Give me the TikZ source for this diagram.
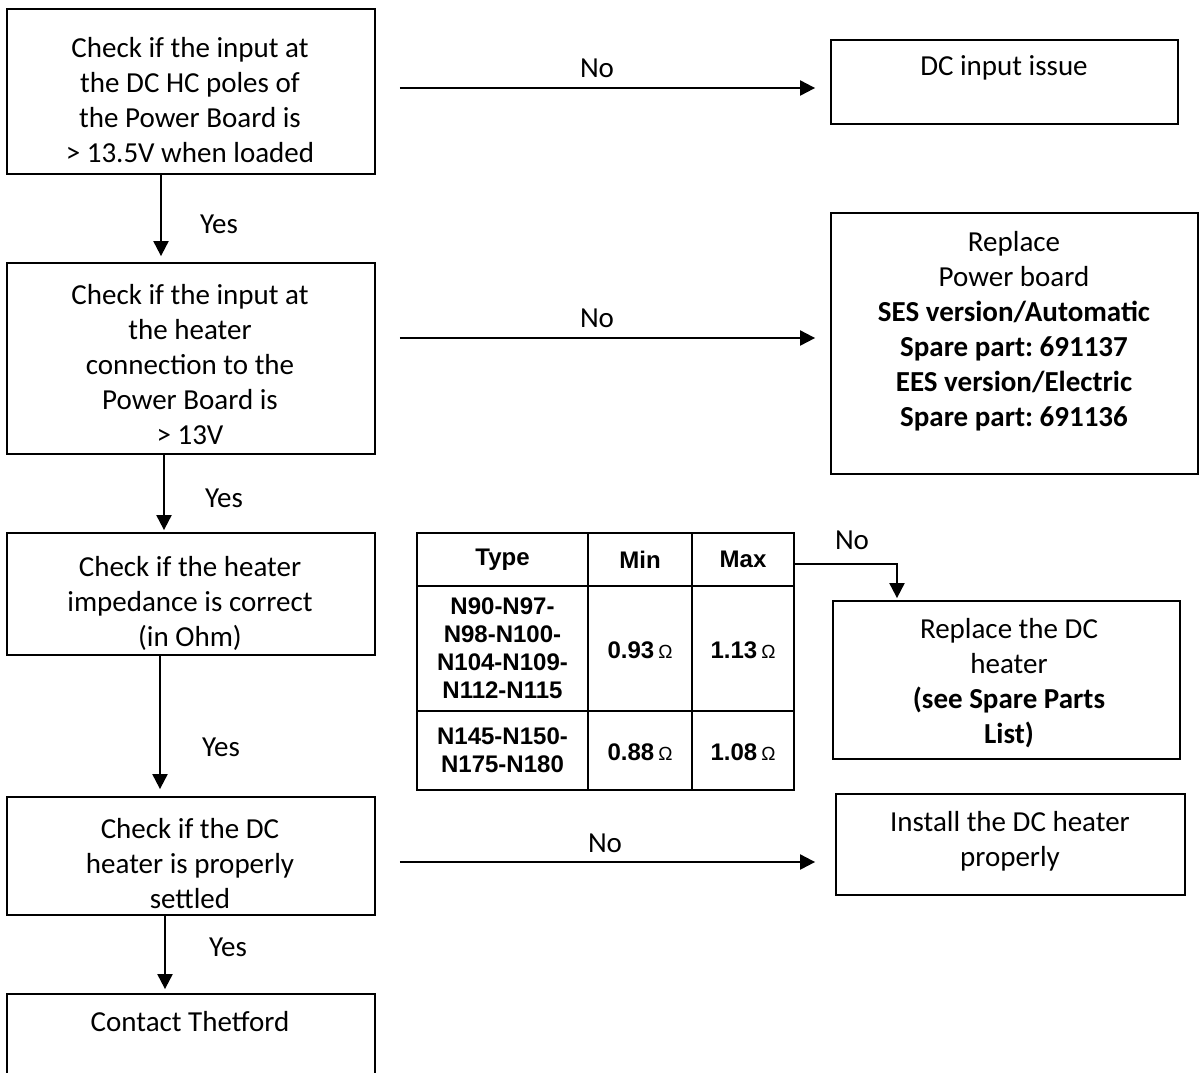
\documentclass[tikz,border=0pt]{standalone}
\usepackage{fontspec}
\setmainfont{Carlito}
\newfontfamily\tablefont{Liberation Sans}
\usetikzlibrary{arrows.meta,positioning}

\tikzset{
  box/.style={draw,line width=1.8pt,inner sep=0pt},
  txt/.style={align=center,font=\fontsize{29}{35}\selectfont,inner sep=0pt},
  lbl/.style={font=\fontsize{29}{35}\selectfont,inner sep=0pt},
  arr/.style={-{Triangle[length=15pt,width=15pt]},line width=2pt},
  cell/.style={align=center,font=\tablefont\bfseries\fontsize{24}{28}\selectfont,inner sep=0pt}
}
\DeclareTextSymbol{\textOmega}{TU}{"03A9}
\newcommand{\ohm}{\,{\fontsize{19}{19}\selectfont\mdseries\textOmega}}
\frenchspacing

\begin{document}
\begin{tikzpicture}[x=1pt,y=-1pt]
  \useasboundingbox (0,0) rectangle (1199,1072);

  % left column
  \node[box,minimum width=368,minimum height=165] (chkin) at (191,91.5){};
  \node[box,minimum width=368,minimum height=191] (chkheat) at (191,358.5){};
  \node[box,minimum width=368,minimum height=122] (chkimp) at (191,594){};
  \node[box,minimum width=368,minimum height=118] (chkset) at (191,856){};
  \node[box,minimum width=368,minimum height=86] (contact) at (191,1037){};

  % right column
  \node[box,minimum width=347,minimum height=84] (dcin) at (1004.5,82){};
  \node[box,minimum width=367,minimum height=261] (pboard) at (1014.5,343.5){};
  \node[box,minimum width=347,minimum height=158] (heater) at (1006.5,680){};
  \node[box,minimum width=349,minimum height=101] (install) at (1010.5,844.5){};

  % texts
  \node[txt] (tchkin) at (190,100){Check if the input at\\the DC HC poles of\\the Power Board is\\> 13.5V when loaded};
  \node[txt] (tchkheat) at (190,365){Check if the input at\\the heater\\connection to the\\Power Board is\\> 13V};
  \node[txt] (tchkimp) at (190,603){Check if the heater\\impedance is correct\\(in Ohm)};
  \node[txt] (tchkset) at (190,864){Check if the DC\\heater is properly\\settled};
  \node[txt] (tcontact) at (190,1022){Contact Thetford};
  \node[txt] (tdcin) at (1004,68){DC input issue};
  \node[txt] (tpboard) at (1014,331){Replace\\Power board\\\textbf{SES version/Automatic}\\\textbf{Spare part: 691137}\\\textbf{EES version/Electric}\\\textbf{Spare part: 691136}};
  \node[txt] (theater) at (1009,683){Replace the DC\\heater\\\textbf{(see Spare Parts}\\\textbf{List)}};
  \node[txt] (tinstall) at (1010,841){Install the DC heater\\properly};

  % impedance table
  \node[draw,line width=2.5pt,minimum width=377,minimum height=257] (tbl) at (605.5,661.5){};
  \draw[line width=2pt] (417,586) -- (794,586) (417,711) -- (794,711)
    (588,533) -- (588,790) (692,533) -- (692,790);
  \node[cell] (ctype) at (502.5,559.5){Type};
  \node[cell] (cmin) at (640,559.5){Min};
  \node[cell] (cmax) at (743,559.5){Max};
  \node[cell] (ctypea) at (502.5,648.5){N90-N97-\\N98-N100-\\N104-N109-\\N112-N115};
  \node[cell] (cmina) at (640,650){0.93\ohm};
  \node[cell] (cmaxa) at (743,650){1.13\ohm};
  \node[cell] (ctypeb) at (502.5,750){N145-N150-\\N175-N180};
  \node[cell] (cminb) at (640,752){0.88\ohm};
  \node[cell] (cmaxb) at (743,752){1.08\ohm};

  % yes arrows
  \draw[arr,shorten >=6pt] ([xshift=-30pt]chkin.south) -- ([xshift=-30pt]chkheat.north);
  \draw[arr,shorten >=2pt] ([xshift=-27pt]chkheat.south) -- ([xshift=-27pt]chkimp.north);
  \draw[arr,shorten >=7pt] ([xshift=-31pt]chkimp.south) -- ([xshift=-31pt]chkset.north);
  \draw[arr,shorten >=4pt] ([xshift=-26pt]chkset.south) -- ([xshift=-26pt]contact.north);
  \node[lbl] (y1) at (219,224){Yes};
  \node[lbl] (y2) at (224,498){Yes};
  \node[lbl] (y3) at (221,747){Yes};
  \node[lbl] (y4) at (228,947){Yes};

  % no arrows
  \draw[arr,shorten <=24pt,shorten >=15pt] (chkin.east |- 0,88) -- (dcin.west |- 0,88);
  \draw[arr,shorten <=24pt,shorten >=15pt] (chkheat.east |- 0,338) -- (pboard.west |- 0,338);
  \draw[arr,shorten <=24pt,shorten >=20pt] (chkset.east |- 0,862) -- (install.west |- 0,862);
  \draw[arr,shorten >=2pt] ([yshift=-32pt]tbl.north east) -| ([xshift=-109.5pt]heater.north);
  \node[lbl] (n1) at (597,68){No};
  \node[lbl] (n2) at (597,318){No};
  \node[lbl] (n3) at (852,540){No};
  \node[lbl] (n4) at (605,843){No};
\end{tikzpicture}
\end{document}
